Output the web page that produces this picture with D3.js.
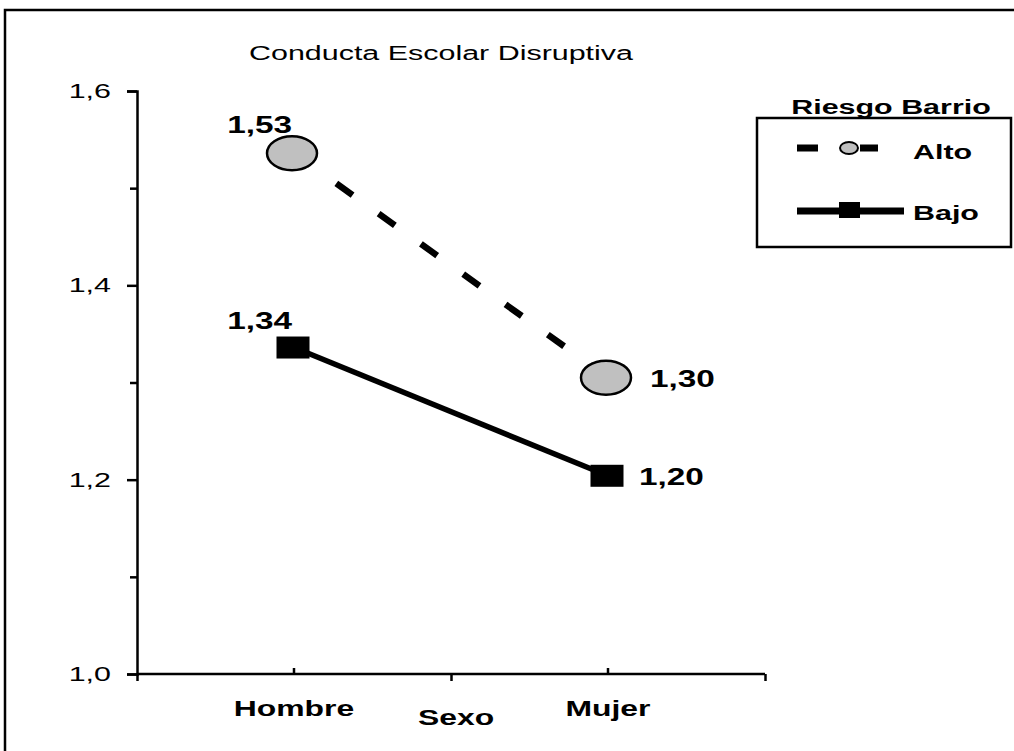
<!DOCTYPE html>
<html>
<head>
<meta charset="utf-8">
<script src="https://cdn.jsdelivr.net/npm/d3@7"></script>
<style>
  html, body { margin: 0; padding: 0; background: #fff; }
  svg { display: block; }
  text { font-family: "Liberation Sans", Arial, sans-serif; fill: #000; }
</style>
</head>
<body>
<svg id="chart" width="1014" height="751"></svg>
<script>
// ---- data ----
const categories = ["Hombre", "Mujer"];
const altoValues = [1.536, 1.305];
const bajoValues = [1.336, 1.204];
const altoLabels = ["1,53", "1,30"];
const bajoLabels = ["1,34", "1,20"];
const yMajorTicks = [1.0, 1.2, 1.4, 1.6];
const yMinorTicks = [1.1, 1.3, 1.5];
const yTickLabels = ["1,0", "1,2", "1,4", "1,6"];
const seriesNames = ["Alto", "Bajo"];
const titleText = "Conducta Escolar Disruptiva";
const xTitle = "Sexo";
const legendTitle = "Riesgo Barrio";

// ---- layout ----
const SX = 1.45; // horizontal text stretch of the original
const svg = d3.select("#chart");
const x0 = 137, x1 = 765, yTop = 91, yBot = 674;

const x = d3.scaleBand().domain(categories).range([x0, x1]).padding(0);
const xb = d3.scaleLinear().domain([0, categories.length]).range([x0, x1]);
const y = d3.scaleLinear().domain([1.0, 1.6]).range([yBot, yTop]);
const cx = c => x(c) + x.bandwidth() / 2;

function txt(g, px, py, s, size, weight, anchor) {
  return g.append("text")
    .attr("transform", `translate(${px},${py}) scale(${SX},1)`)
    .attr("font-size", size)
    .attr("font-weight", weight)
    .attr("text-anchor", anchor)
    .text(s);
}

// outer border
svg.append("rect").attr("x", 5).attr("y", 10).attr("width", 1100).attr("height", 800)
  .attr("fill", "none").attr("stroke", "#000").attr("stroke-width", 2.5);

// title
txt(svg, 441, 60, titleText, 21, "normal", "middle");

// y axis
const yAxisG = svg.append("g").attr("transform", `translate(${x0},0)`)
  .call(d3.axisLeft(y).tickValues(yMajorTicks).tickSize(10).tickFormat(""));
yAxisG.select(".domain").attr("stroke-width", 2.5);
yAxisG.selectAll(".tick line").attr("stroke-width", 2.5);
const yMinorG = svg.append("g").attr("transform", `translate(${x0},0)`)
  .call(d3.axisLeft(y).tickValues(yMinorTicks).tickSize(7).tickFormat(""));
yMinorG.select(".domain").remove();
yMinorG.selectAll(".tick line").attr("stroke-width", 2.5);
yMajorTicks.forEach((v, i) => txt(svg, 111, y(v) + 7, yTickLabels[i], 21, "normal", "end"));

// x axis: boundary ticks (down) and category ticks (up)
const xAxisG = svg.append("g").attr("transform", `translate(0,${yBot})`)
  .call(d3.axisBottom(xb).tickValues(d3.range(categories.length + 1)).tickSize(7).tickFormat(""));
xAxisG.select(".domain").attr("stroke-width", 2.5).attr("d", `M${x0},0H${x1}`);
xAxisG.selectAll(".tick line").attr("stroke-width", 2.5);
const xCatG = svg.append("g").attr("transform", `translate(0,${yBot})`)
  .call(d3.axisBottom(x).tickSizeInner(-6).tickSizeOuter(0).tickFormat(""));
xCatG.select(".domain").remove();
xCatG.selectAll(".tick line").attr("stroke-width", 2.5);
categories.forEach(c => txt(svg, cx(c), yBot + 42, c, 22, "bold", "middle"));
txt(svg, 456, yBot + 51, xTitle, 22, "bold", "middle");

// lines
const line = d3.line().x((d, i) => cx(categories[i])).y(d => y(d));
svg.append("path").datum(altoValues).attr("d", line)
  .attr("fill", "none").attr("stroke", "#000").attr("stroke-width", 6.5)
  .attr("stroke-dasharray", "20,32");
svg.append("path").datum(bajoValues).attr("d", line)
  .attr("fill", "none").attr("stroke", "#000").attr("stroke-width", 5.5);

// markers
svg.selectAll(".altoPt").data(altoValues).enter().append("ellipse")
  .attr("cx", (d, i) => cx(categories[i]) - 2).attr("cy", d => y(d))
  .attr("rx", 25).attr("ry", 17)
  .attr("fill", "#c0c0c0").attr("stroke", "#000").attr("stroke-width", 2.5);
svg.selectAll(".bajoPt").data(bajoValues).enter().append("rect")
  .attr("x", (d, i) => cx(categories[i]) - 1 - 16.5).attr("y", d => y(d) - 11)
  .attr("width", 33).attr("height", 22).attr("fill", "#000");

// data labels
txt(svg, cx(categories[0]) - 2, y(altoValues[0]) - 20, altoLabels[0], 23, "bold", "end");
txt(svg, cx(categories[1]) + 42, y(altoValues[1]) + 9, altoLabels[1], 23, "bold", "start");
txt(svg, cx(categories[0]) - 2, y(bajoValues[0]) - 19, bajoLabels[0], 23, "bold", "end");
txt(svg, cx(categories[1]) + 31, y(bajoValues[1]) + 9, bajoLabels[1], 23, "bold", "start");

// legend
const lg = svg.append("g");
txt(lg, 891, 114, legendTitle, 21, "bold", "middle");
lg.append("rect").attr("x", 757).attr("y", 118).attr("width", 254).attr("height", 129)
  .attr("fill", "none").attr("stroke", "#000").attr("stroke-width", 2.5);
lg.append("line").attr("x1", 797).attr("x2", 878).attr("y1", 148).attr("y2", 148)
  .attr("stroke", "#000").attr("stroke-width", 7).attr("stroke-dasharray", "21,42");
lg.append("ellipse").attr("cx", 849).attr("cy", 148).attr("rx", 9).attr("ry", 6)
  .attr("fill", "#c0c0c0").attr("stroke", "#000").attr("stroke-width", 2);
lg.append("line").attr("x1", 797).attr("x2", 904).attr("y1", 211).attr("y2", 211)
  .attr("stroke", "#000").attr("stroke-width", 7);
lg.append("rect").attr("x", 839).attr("y", 202).attr("width", 21).attr("height", 16).attr("fill", "#000");
txt(lg, 913, 159, seriesNames[0], 21, "bold", "start");
txt(lg, 913, 220, seriesNames[1], 21, "bold", "start");
</script>
</body>
</html>
